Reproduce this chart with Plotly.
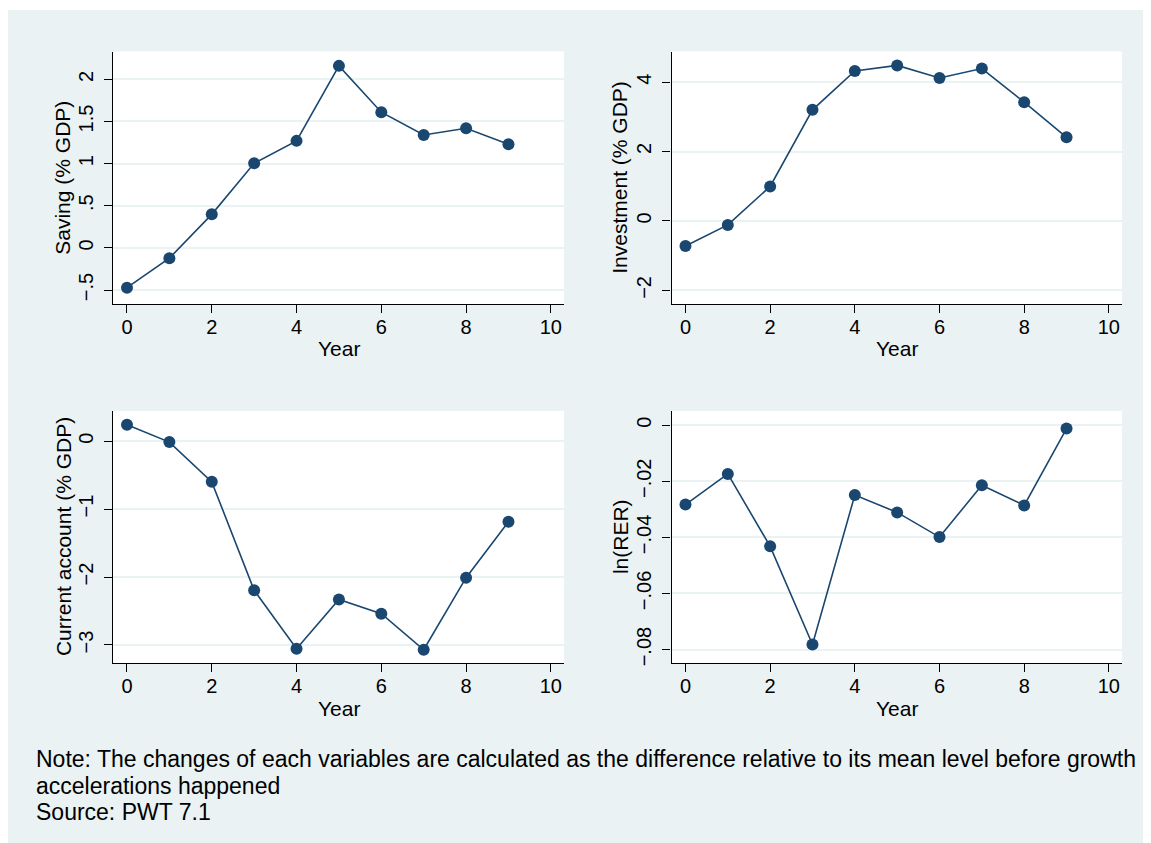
import plotly.graph_objects as go

years = [0, 1, 2, 3, 4, 5, 6, 7, 8, 9]
saving = [-0.472, -0.122, 0.398, 1.004, 1.27, 2.16, 1.61, 1.34, 1.42, 1.23]
investment = [-0.72, -0.115, 0.995, 3.20, 4.32, 4.48, 4.12, 4.39, 3.42, 2.41]
current_account = [0.24, -0.015, -0.60, -2.195, -3.054, -2.33, -2.54, -3.07, -2.01, -1.186]
ln_rer = [-0.0283, -0.0174, -0.0432, -0.0782, -0.0249, -0.0311, -0.0399, -0.0214, -0.0286, -0.0012]

x_ticks = [0, 2, 4, 6, 8, 10]
y1_ticks = [-0.5, 0, 0.5, 1, 1.5, 2]
y1_labels = ["\u2212.5", "0", ".5", "1", "1.5", "2"]
y2_ticks = [-2, 0, 2, 4]
y2_labels = ["\u22122", "0", "2", "4"]
y3_ticks = [-3, -2, -1, 0]
y3_labels = ["\u22123", "\u22122", "\u22121", "0"]
y4_ticks = [-0.08, -0.06, -0.04, -0.02, 0]
y4_labels = ["\u2212.08", "\u2212.06", "\u2212.04", "\u2212.02", "0"]

titles = ["Saving (% GDP)", "Investment (% GDP)", "Current account (% GDP)", "ln(RER)"]
x_title = "Year"
note_lines = [
    "Note: The changes of each variables are calculated as the difference relative to its mean level before growth",
    "accelerations happened",
    "Source: PWT 7.1",
]
series = [saving, investment, current_account, ln_rer]
yranges = [[-0.665, 2.33], [-2.39, 4.88], [-3.27, 0.445], [-0.0849, 0.0051]]
yticks = [(y1_ticks, y1_labels), (y2_ticks, y2_labels), (y3_ticks, y3_labels), (y4_ticks, y4_labels)]

W, H = 1143, 835
OFF = 8  # page body margin
BG = "#EAF2F3"
NAVY = "#1a476f"
FONT = "Liberation Sans, Arial, sans-serif"

# plot area pixel bounds (image coordinates)
xpix = [(113, 564), (671.5, 1122)]
ypix = [(51.7, 305), (412.3, 665.7)]


def px(v):
    return (v - OFF) / W


def py(v):
    return 1 - (v - OFF) / H


xdoms = [[px(a), px(b)] for a, b in xpix]
ydoms = [[py(b), py(a)] for a, b in ypix]

fig = go.Figure()
layout = {}
for i in range(4):
    r, c = divmod(i, 2)
    xa = "x" if i == 0 else f"x{i+1}"
    ya = "y" if i == 0 else f"y{i+1}"
    fig.add_trace(go.Scatter(
        x=years, y=series[i], xaxis=xa, yaxis=ya, mode="lines+markers",
        line=dict(color=NAVY, width=1.6),
        marker=dict(color=NAVY, size=12),
        showlegend=False,
    ))
    xkey = "xaxis" if i == 0 else f"xaxis{i+1}"
    ykey = "yaxis" if i == 0 else f"yaxis{i+1}"
    layout[xkey] = dict(
        domain=xdoms[c], anchor=ya, range=[-0.33, 10.31],
        tickvals=x_ticks, ticktext=[str(v) for v in x_ticks],
        showgrid=False, zeroline=False, showline=True, linecolor="#000000", linewidth=1.3,
        ticks="outside", ticklen=8, tickcolor="#000000", tickwidth=1.3,
        tickfont=dict(family=FONT, size=20, color="#000000"),
        ticklabelstandoff=-3,
    )
    layout[ykey] = dict(
        domain=ydoms[r], anchor=xa, range=yranges[i],
        tickvals=yticks[i][0], ticktext=yticks[i][1], tickangle=-90,
        showgrid=True, gridcolor=BG, gridwidth=2, zeroline=False,
        showline=True, linecolor="#000000", linewidth=1.3,
        ticks="outside", ticklen=8, tickcolor="#000000", tickwidth=1.3,
        tickfont=dict(family=FONT, size=20, color="#000000"),
        ticklabelstandoff=3,
    )
    # axis titles
    xc = (xpix[c][0] + xpix[c][1]) / 2
    yc = (ypix[r][0] + ypix[r][1]) / 2
    ytx = [63, 620][c]
    xty = [350, 711][r]
    fig.add_annotation(xref="paper", yref="paper", x=px(ytx), y=py(yc), text=titles[i],
                       textangle=-90, showarrow=False, xanchor="center", yanchor="middle",
                       font=dict(family=FONT, size=21, color="#000000"))
    fig.add_annotation(xref="paper", yref="paper", x=px(xc), y=py(xty), text=x_title,
                       showarrow=False, xanchor="center", yanchor="middle",
                       font=dict(family=FONT, size=21, color="#000000"))

fig.update_layout(
    width=W, height=H, autosize=False,
    margin=dict(l=0, r=0, t=0, b=0, pad=0),
    paper_bgcolor=BG, plot_bgcolor="#FFFFFF",
    **layout,
)

# thin white strip at the very top
fig.add_shape(type="rect", xref="paper", yref="paper", x0=0, x1=1, y0=py(10), y1=1,
              fillcolor="#FFFFFF", line=dict(width=0), layer="above")

for k, line in enumerate(note_lines):
    fig.add_annotation(
        xref="paper", yref="paper", x=px(34), y=py([762, 788.5, 815][k]),
        xanchor="left", yanchor="middle", align="left", showarrow=False, text=line,
        font=dict(family=FONT, size=23, color="#000000"),
    )

fig.write_html(
    "out.html",
    post_script="document.documentElement.style.overflow='hidden';document.body.style.overflow='hidden';",
)
